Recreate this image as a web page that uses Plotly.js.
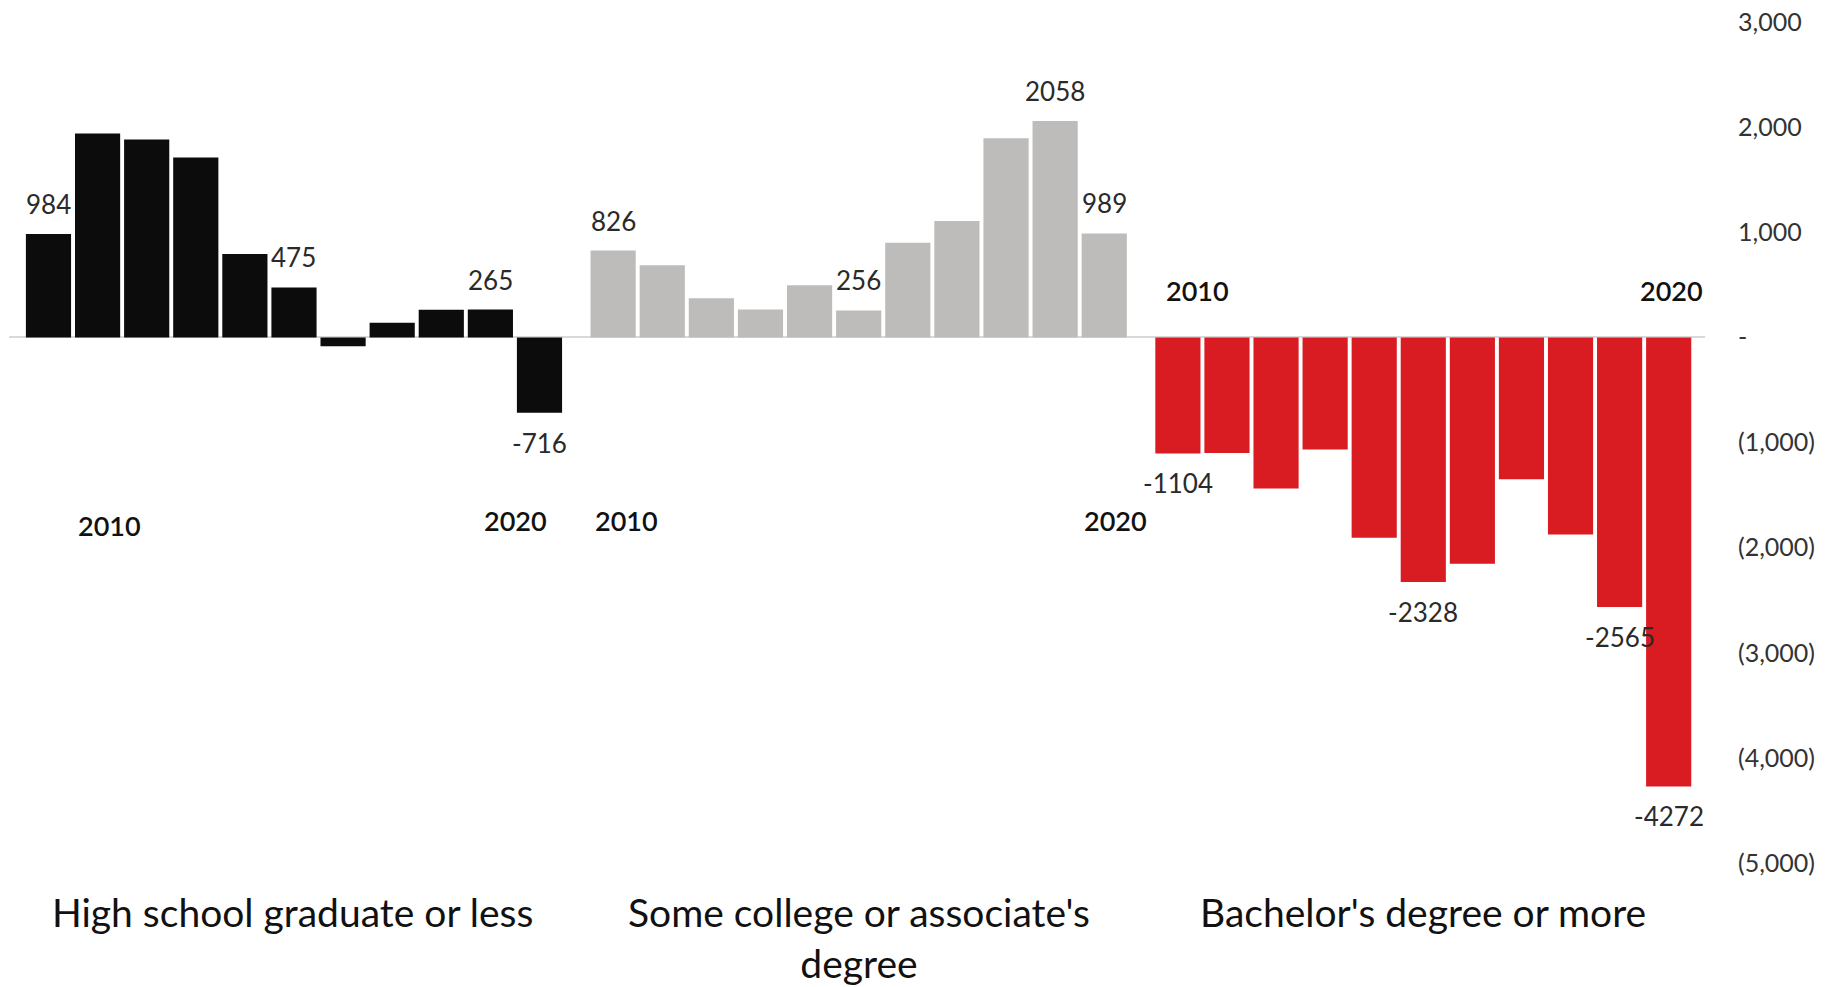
<!DOCTYPE html>
<html>
<head>
<meta charset="utf-8">
<script src="https://cdn.plot.ly/plotly-3.0.1.min.js"></script>
<style>html,body{margin:0;padding:0;background:#fff;}#chart{width:1831px;height:987px;}</style>
</head>
<body>
<div id="chart"></div>
<script>
// ---- data ----
const YEARS = ['2010','2011','2012','2013','2014','2015','2016','2017','2018','2019','2020'];
const GROUPS = ['High school graduate or less', "Some college or associate's<br>degree", "Bachelor's degree or more"];
const HS_VALUES = [984, 1940, 1882, 1712, 793, 475, -85, 140, 262, 265, -716];
const SOME_COLLEGE_VALUES = [826, 687, 372, 265, 495, 256, 899, 1107, 1893, 2058, 989];
const BACHELOR_VALUES = [-1104, -1100, -1438, -1066, -1905, -2328, -2153, -1350, -1876, -2565, -4272];
const LABELED_INDEX = [0, 5, 9, 10];
const Y_TICK_VALUES = [3000, 2000, 1000, 0, -1000, -2000, -3000, -4000, -5000];
const Y_TICK_TEXT = ['3,000', '2,000', '1,000', '-', '(1,000)', '(2,000)', '(3,000)', '(4,000)', '(5,000)'];

const SERIES = [HS_VALUES, SOME_COLLEGE_VALUES, BACHELOR_VALUES];
const COLORS = ['#0c0c0c', '#bdbcba', '#d91b22'];
const AX = ['x', 'x2', 'x3'];
const FONT = 'Lato, "Open Sans", sans-serif';

const traces = SERIES.map((vals, g) => ({
  type: 'bar',
  x: YEARS,
  y: vals,
  xaxis: AX[g],
  yaxis: 'y',
  marker: {color: COLORS[g], line: {width: 0}},
  hoverinfo: 'x+y',
  showlegend: false
}));

const annotations = [];
// value labels
SERIES.forEach((vals, g) => {
  LABELED_INDEX.forEach(i => {
    const v = vals[i];
    annotations.push({
      xref: AX[g], yref: 'y', x: i, y: v,
      text: String(v), showarrow: false,
      yanchor: 'middle', xanchor: 'center',
      yshift: v >= 0 ? 30 : -30,
      font: {family: FONT, size: 26, color: '#2a2a2a'}
    });
  });
});
// year labels (hand placed in the original)
const yearPos = [
  [{x: 1.25, y: -1785}, {x: 9.52, y: -1746}],
  [{x: 0.28, y: -1746}, {x: 10.22, y: -1746}],
  [{x: 0.39, y: 443}, {x: 10.05, y: 443}]
];
yearPos.forEach((pair, g) => {
  [YEARS[0], YEARS[YEARS.length - 1]].forEach((yr, k) => {
    annotations.push({
      xref: AX[g], yref: 'y', x: pair[k].x, y: pair[k].y,
      text: yr, showarrow: false, xanchor: 'center', yanchor: 'middle',
      font: {family: FONT, size: 27, color: '#111', weight: 600}
    });
  });
});
// group titles
GROUPS.forEach((name, g) => {
  annotations.push({
    xref: AX[g] + ' domain', yref: 'paper', x: 0.5, y: -0.029,
    text: name, showarrow: false, xanchor: 'center', yanchor: 'top', align: 'center',
    font: {family: FONT, size: 39, color: '#111'}
  });
});

const xBase = {
  type: 'category', showticklabels: false, showgrid: false, zeroline: false,
  showline: false, ticks: '', fixedrange: true, anchor: 'y'
};

const layout = {
  width: 1831, height: 987,
  margin: {l: 9, r: 126, t: 22, b: 124},
  paper_bgcolor: '#ffffff', plot_bgcolor: '#ffffff',
  bargap: 0.08,
  font: {family: FONT, color: '#222'},
  xaxis: Object.assign({}, xBase, {domain: [0, 0.3345], range: [-0.804, 10.75]}),
  xaxis2: Object.assign({}, xBase, {domain: [0.3345, 0.6675], range: [-0.75, 10.75]}),
  xaxis3: Object.assign({}, xBase, {domain: [0.6675, 1], range: [-0.75, 10.74]}),
  yaxis: {
    side: 'right', anchor: 'x3', range: [-5000, 3000],
    tickvals: Y_TICK_VALUES, ticktext: Y_TICK_TEXT,
    showgrid: false, showline: false, ticks: '',
    zeroline: true, zerolinecolor: '#d9d9d9', zerolinewidth: 2,
    ticklabelstandoff: 32,
    tickfont: {family: FONT, size: 25, color: '#333'},
    fixedrange: true
  },
  annotations: annotations
};

Plotly.newPlot('chart', traces, layout, {displayModeBar: false, staticPlot: true});
</script>
</body>
</html>
